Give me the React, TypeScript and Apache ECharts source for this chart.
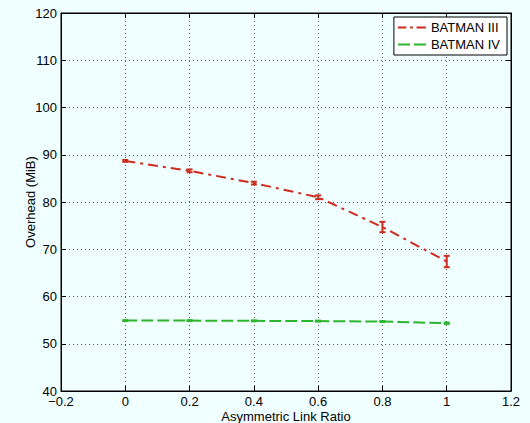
import React, { useEffect, useRef } from "react";
import * as echarts from "echarts";

const xValues = [0, 0.2, 0.4, 0.6, 0.8, 1.0];
const batman3 = [88.7, 86.6, 84.0, 81.0, 74.7, 67.4];
const batman3Err = [0.2, 0.3, 0.3, 0.4, 1.1, 1.2];
const batman4 = [54.9, 54.9, 54.85, 54.8, 54.7, 54.35];
const batman4Err = [0.1, 0.1, 0.1, 0.1, 0.1, 0.15];
const seriesNames = ["BATMAN III", "BATMAN IV"];

const RED = "#CC2B1D";
const GREEN = "#2DB52D";
const FONT = "Liberation Sans";
const FS = 13;

const RED_ICON = "path://M0,0h9v2h-9z M13,0h3v2h-3z M20,0h10v2h-10z";
const GREEN_ICON = "path://M0,0h13v2h-13z M17,0h13v2h-13z";

function errorSeries(vals: number[], errs: number[], color: string) {
  return {
    type: "custom",
    silent: true,
    z: 5,
    data: xValues.map((x, i) => [x, vals[i] - errs[i], vals[i] + errs[i]]),
    renderItem: (params: any, api: any) => {
      const x = api.value(0);
      const lo = api.coord([x, api.value(1)]);
      const hi = api.coord([x, api.value(2)]);
      const hw = 3;
      const st = { stroke: color, lineWidth: 2 };
      return {
        type: "group",
        children: [
          { type: "line", shape: { x1: lo[0], y1: lo[1], x2: hi[0], y2: hi[1] }, style: st },
          { type: "line", shape: { x1: lo[0] - hw, y1: lo[1], x2: lo[0] + hw, y2: lo[1] }, style: st },
          { type: "line", shape: { x1: hi[0] - hw, y1: hi[1], x2: hi[0] + hw, y2: hi[1] }, style: st },
        ],
      };
    },
  };
}

export default function App() {
  const ref = useRef<HTMLDivElement>(null);
  useEffect(() => {
    document.body.style.margin = "0";
    document.body.style.background = "#F0FFFF";
    const chart = echarts.init(ref.current!, undefined, { renderer: "svg" });
    const axisLine = { show: true, onZero: false, lineStyle: { color: "#000", width: 1 } };
    const tick = { show: true, inside: true, length: 5, lineStyle: { color: "#000" } };
    const label = { color: "#000", fontFamily: FONT, fontSize: FS };
    const split = { show: true, lineStyle: { color: "#555", type: [1, 3] as any, width: 1 } };
    chart.setOption({
      animation: false,
      backgroundColor: "#F0FFFF",
      textStyle: { fontFamily: FONT },
      grid: {
        left: 61,
        right: 19,
        top: 13,
        bottom: 32,
        outerBoundsMode: "none",
        containLabel: false,
        show: true,
        backgroundColor: "#F0FFFF",
        borderColor: "#000",
        borderWidth: 1,
      },
      legend: {
        data: [
          { name: seriesNames[0], icon: RED_ICON },
          { name: seriesNames[1], icon: GREEN_ICON },
        ],
        right: 23,
        top: 17,
        orient: "vertical",
        backgroundColor: "#FFFFFF",
        borderColor: "#000",
        borderWidth: 1,
        borderRadius: 0,
        padding: [3, 7, 3, 4],
        itemGap: 2,
        itemWidth: 28,
        itemHeight: 2,
        itemTextGap: 4,
        textStyle: { color: "#000", fontFamily: FONT, fontSize: FS, lineHeight: 15 },
      },
      xAxis: [
        {
          type: "value",
          min: -0.2,
          max: 1.2,
          interval: 0.2,
          axisLine,
          axisTick: tick,
          splitLine: split,
          axisLabel: {
            ...label,
            margin: 4,
            formatter: (v: number) => {
              const r = Math.round(v * 10) / 10;
              return r < 0 ? "\u2212" + String(-r) : String(r);
            },
          },
          name: "Asymmetric Link Ratio",
          nameLocation: "middle",
          nameGap: 19,
          nameMoveOverlap: false,
          nameTextStyle: { color: "#000", fontFamily: FONT, fontSize: FS },
        },
        {
          type: "value",
          position: "top",
          min: -0.2,
          max: 1.2,
          interval: 0.2,
          axisLine,
          axisTick: tick,
          axisLabel: { show: false },
          splitLine: { show: false },
        },
      ],
      yAxis: [
        {
          type: "value",
          min: 40,
          max: 120,
          interval: 10,
          axisLine,
          axisTick: tick,
          splitLine: split,
          axisLabel: { ...label, margin: 4 },
          name: "Overhead (MiB)",
          nameLocation: "middle",
          nameGap: 24,
          nameMoveOverlap: false,
          nameTextStyle: { color: "#000", fontFamily: FONT, fontSize: FS },
        },
        {
          type: "value",
          position: "right",
          min: 40,
          max: 120,
          interval: 10,
          axisLine,
          axisTick: tick,
          axisLabel: { show: false },
          splitLine: { show: false },
        },
      ],
      series: [
        {
          name: seriesNames[0],
          type: "line",
          symbol: "none",
          data: xValues.map((x, i) => [x, batman3[i]]),
          lineStyle: { color: RED, width: 2, type: [10, 5, 3, 5] },
          itemStyle: { color: RED },
          z: 4,
        },
        {
          name: seriesNames[1],
          type: "line",
          symbol: "none",
          data: xValues.map((x, i) => [x, batman4[i]]),
          lineStyle: { color: GREEN, width: 2, type: [12, 4] },
          itemStyle: { color: GREEN },
          z: 4,
        },
        errorSeries(batman3, batman3Err, RED),
        errorSeries(batman4, batman4Err, GREEN),
      ],
    });
    return () => chart.dispose();
  }, []);
  return <div ref={ref} style={{ width: 530, height: 423 }} />;
}
